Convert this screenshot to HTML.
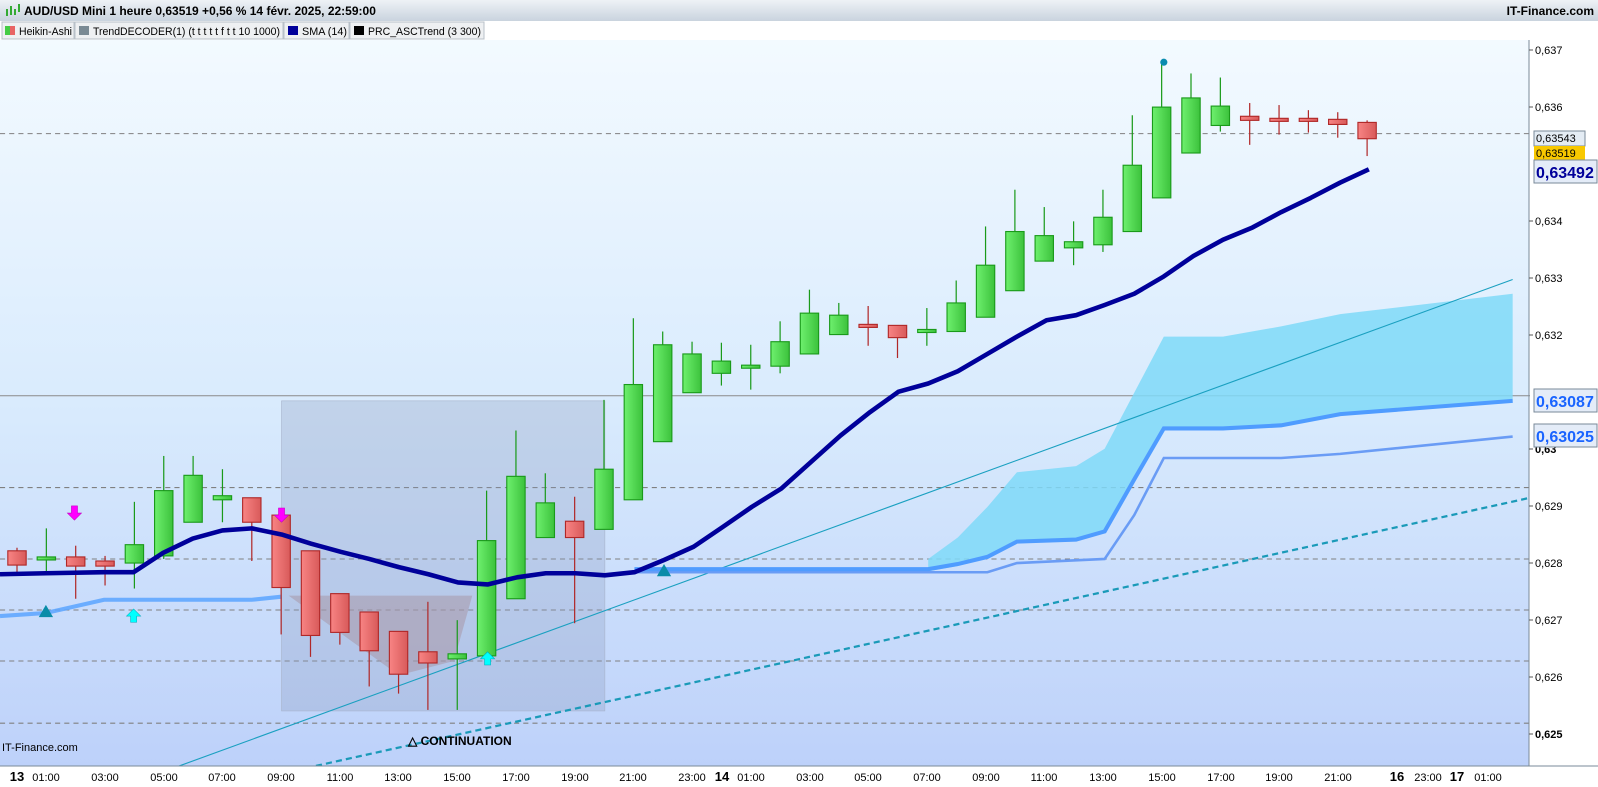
<!DOCTYPE html>
<html><head><meta charset="utf-8"><style>
html,body{margin:0;padding:0;width:1598px;height:787px;overflow:hidden;background:#fff;font-family:"Liberation Sans",sans-serif}
</style></head><body>
<svg width="1598" height="787" xmlns="http://www.w3.org/2000/svg" font-family="Liberation Sans, sans-serif">
<defs>
<linearGradient id="bg" x1="0" y1="0" x2="0" y2="1">
<stop offset="0" stop-color="#f3faff"/><stop offset="0.5" stop-color="#d9ebfd"/><stop offset="1" stop-color="#bdd1fa"/></linearGradient>
<linearGradient id="hdr" x1="0" y1="0" x2="0" y2="1"><stop offset="0" stop-color="#eef2f6"/><stop offset="1" stop-color="#c9d3de"/></linearGradient>
<linearGradient id="gc" x1="0" y1="0" x2="1" y2="0"><stop offset="0" stop-color="#6ef06e"/><stop offset="1" stop-color="#3cc23c"/></linearGradient>
<linearGradient id="rc" x1="0" y1="0" x2="1" y2="0"><stop offset="0" stop-color="#f88484"/><stop offset="1" stop-color="#d85a5a"/></linearGradient>
</defs>
<rect x="0" y="40" width="1529" height="726" fill="url(#bg)"/>
<rect x="1529" y="40" width="69" height="726" fill="#fff"/>
<g id="plot" transform="scale(1.02)">
<g stroke="#808080" stroke-width="1" stroke-dasharray="5,4">
<line x1="0" y1="131" x2="1500" y2="131"/><line x1="0" y1="478" x2="1500" y2="478"/><line x1="0" y1="548" x2="1500" y2="548"/><line x1="0" y1="598" x2="1500" y2="598"/><line x1="0" y1="648" x2="1500" y2="648"/><line x1="0" y1="709" x2="1500" y2="709"/>
</g>
<line x1="0" y1="388" x2="1500" y2="388" stroke="#8a8a8a" stroke-width="1"/>
<rect x="276" y="393" width="317" height="304" fill="#8c9cc0" fill-opacity="0.3" stroke="#a8b4cc" stroke-width="0.6"/>
<polygon points="283,584 463,584 445,648 391,662" fill="#a898a8" fill-opacity="0.55"/>
<polygon points="910,548 939,527 968,497 997,463 1055,457 1083,440 1112,385 1141,330 1199,330 1256,320 1314,308 1483,288 1483,393 1314,406 1256,417 1199,420 1141,420 1112,470 1083,521 1055,529 997,531 968,546 939,555 910,560" fill="#7fd9f8" fill-opacity="0.85"/>
<line x1="170" y1="753" x2="1483" y2="274" stroke="#1aa0c0" stroke-width="1.1"/>
<line x1="300" y1="753" x2="1500" y2="488" stroke="#1a9ab8" stroke-width="2.2" stroke-dasharray="6,4"/>
<polyline points="0,604 45,601 102,588 247,588 276,585" fill="none" stroke="#5aa4ff" stroke-width="4" stroke-opacity="0.85"/>
<polyline points="622,561 968,561 997,552 1083,548 1112,505 1141,449 1256,449 1314,445 1483,428" fill="none" stroke="#6a9cf5" stroke-width="2.5"/>
<polyline points="622,558 910,558 939,553 968,546 997,531 1055,529 1083,521 1112,470 1141,420 1199,420 1256,417 1314,406 1483,393" fill="none" stroke="#4f9cff" stroke-width="4"/>
<g id="candles"></g>
<polyline points="0,563 45,562 102,561 131,561 160,542 189,528 218,520 247,518 276,524 305,533 334,541 362,548 391,556 420,563 449,571 478,573 507,566 535,562 564,562 593,564 622,561 651,549 680,536 708,517 737,497 766,479 795,453 824,427 853,404 881,384 910,376 939,364 968,347 997,330 1026,314 1055,309 1083,299 1112,288 1141,271 1170,251 1199,235 1228,223 1256,208 1285,194 1314,179 1342,166" fill="none" stroke="#00009a" stroke-width="4.5" stroke-linejoin="round"/>
<g fill="#ff00ff" stroke="#c000c0" stroke-width="0.5">
<polygon points="70,496 76,496 76,503 80,503 73,510 66,503 70,503"/>
<polygon points="273,498 279,498 279,505 283,505 276,512 269,505 273,505"/>
</g>
<g fill="#00ffff" stroke="#00a8b8" stroke-width="0.5">
<polygon points="131,597 138,604 134,604 134,610 128,610 128,604 124,604"/>
<polygon points="478,639 485,646 481,646 481,652 475,652 475,646 471,646"/>
</g>
<g fill="#0a8ca8"><polygon points="45,593 52,605 38,605"/><polygon points="651,553 658,565 644,565"/>
<circle cx="1141" cy="61" r="3.5" fill="#0a8cb0"/></g>
</g>
<text x="408" y="745" font-size="12" font-weight="bold" font-family="Liberation Sans Narrow, Liberation Sans, sans-serif">△ CONTINUATION</text>
<text x="2" y="751" font-size="11">IT-Finance.com</text>
<rect x="0" y="0" width="1598" height="21" fill="url(#hdr)"/>
<g transform="translate(5,4)"><rect x="1" y="5" width="2" height="7" fill="#3a3"/><rect x="5" y="2" width="2" height="9" fill="#3a3"/><rect x="9" y="5" width="2" height="6" fill="#3a3"/><rect x="13" y="0" width="2" height="8" fill="#3a3"/></g>
<text x="24" y="15" font-size="12" font-weight="bold">AUD/USD Mini 1 heure 0,63519 +0,56 % 14 févr. 2025, 22:59:00</text>
<text x="1594" y="15" font-size="12" font-weight="bold" text-anchor="end">IT-Finance.com</text>
<rect x="0" y="21" width="1598" height="19" fill="#fff"/>
<g font-size="11">
<rect x="2" y="22" width="72" height="17" fill="#eef0f2" stroke="#b8c0c8"/><rect x="5" y="26" width="5" height="9" fill="#44cc44"/><rect x="10" y="26" width="5" height="9" fill="#e86464"/><text x="19" y="35" textLength="53" lengthAdjust="spacingAndGlyphs">Heikin-Ashi</text>
<rect x="75" y="22" width="208" height="17" fill="#eef0f2" stroke="#b8c0c8"/><rect x="79" y="26" width="10" height="9" fill="#7a8a94"/><text x="93" y="35" textLength="187" lengthAdjust="spacingAndGlyphs">TrendDECODER(1) (t t t t t f t t 10 1000)</text>
<rect x="284" y="22" width="65" height="17" fill="#eef0f2" stroke="#b8c0c8"/><rect x="288" y="26" width="10" height="9" fill="#00009a"/><text x="302" y="35" textLength="45" lengthAdjust="spacingAndGlyphs">SMA (14)</text>
<rect x="350" y="22" width="134" height="17" fill="#eef0f2" stroke="#b8c0c8"/><rect x="354" y="26" width="10" height="9" fill="#000"/><text x="368" y="35" textLength="113" lengthAdjust="spacingAndGlyphs">PRC_ASCTrend (3 300)</text>
</g>
<line x1="1529" y1="40" x2="1529" y2="766" stroke="#7a8a98"/>
<g font-size="11" fill="#000">
<line x1="1529" y1="50" x2="1533" y2="50" stroke="#555"/><text x="1535" y="54">0,637</text>
<line x1="1529" y1="107" x2="1533" y2="107" stroke="#555"/><text x="1535" y="111">0,636</text>
<line x1="1529" y1="221" x2="1533" y2="221" stroke="#555"/><text x="1535" y="225">0,634</text>
<line x1="1529" y1="278" x2="1533" y2="278" stroke="#555"/><text x="1535" y="282">0,633</text>
<line x1="1529" y1="335" x2="1533" y2="335" stroke="#555"/><text x="1535" y="339">0,632</text>
<text x="1535" y="396">0,631</text>
<line x1="1529" y1="449" x2="1533" y2="449" stroke="#555"/><text x="1535" y="453" font-weight="bold">0,63</text>
<line x1="1529" y1="506" x2="1533" y2="506" stroke="#555"/><text x="1535" y="510">0,629</text>
<line x1="1529" y1="563" x2="1533" y2="563" stroke="#555"/><text x="1535" y="567">0,628</text>
<line x1="1529" y1="620" x2="1533" y2="620" stroke="#555"/><text x="1535" y="624">0,627</text>
<line x1="1529" y1="677" x2="1533" y2="677" stroke="#555"/><text x="1535" y="681">0,626</text>
<line x1="1529" y1="734" x2="1533" y2="734" stroke="#555"/><text x="1535" y="738" font-weight="bold">0,625</text>
</g>
<rect x="1534" y="131" width="51" height="15" fill="#e4ecf4" stroke="#7a8a98"/><text x="1536" y="142" font-size="11">0,63543</text>
<rect x="1534" y="146" width="51" height="14" fill="#f8c800"/><text x="1536" y="157" font-size="11">0,63519</text>
<rect x="1534" y="160" width="63" height="23" fill="#e4ecf8" stroke="#7a8a98"/><text x="1536" y="178" font-size="16" font-weight="bold" fill="#00009a">0,63492</text>
<rect x="1534" y="389" width="63" height="23" fill="#e4ecf8" stroke="#7a8a98"/><text x="1536" y="407" font-size="16" font-weight="bold" fill="#1a64ff">0,63087</text>
<rect x="1534" y="424" width="63" height="23" fill="#e4ecf8" stroke="#7a8a98"/><text x="1536" y="442" font-size="16" font-weight="bold" fill="#1a64ff">0,63025</text>
<rect x="0" y="766" width="1598" height="21" fill="#fff"/>
<line x1="0" y1="766" x2="1598" y2="766" stroke="#7a8a98"/>
<g font-size="11" text-anchor="middle" font-family="Liberation Sans Narrow, Liberation Sans, sans-serif">
<text x="17" y="781" font-size="13" font-weight="bold">13</text>
<text x="46" y="781">01:00</text><text x="105" y="781">03:00</text><text x="164" y="781">05:00</text><text x="222" y="781">07:00</text><text x="281" y="781">09:00</text><text x="340" y="781">11:00</text><text x="398" y="781">13:00</text><text x="457" y="781">15:00</text><text x="516" y="781">17:00</text><text x="575" y="781">19:00</text><text x="633" y="781">21:00</text><text x="692" y="781">23:00</text>
<text x="722" y="781" font-size="13" font-weight="bold">14</text>
<text x="751" y="781">01:00</text><text x="810" y="781">03:00</text><text x="868" y="781">05:00</text><text x="927" y="781">07:00</text><text x="986" y="781">09:00</text><text x="1044" y="781">11:00</text><text x="1103" y="781">13:00</text><text x="1162" y="781">15:00</text><text x="1221" y="781">17:00</text><text x="1279" y="781">19:00</text><text x="1338" y="781">21:00</text>
<text x="1397" y="781" font-size="13" font-weight="bold">16</text><text x="1428" y="781">23:00</text>
<text x="1457" y="781" font-size="13" font-weight="bold">17</text><text x="1488" y="781">01:00</text>
</g>
</svg>
<script>
var C=[[540,554,537,562,'r'],[546,548,518,560,'g'],[546,555,535,587,'r'],[550,555,545,574,'r'],[534,552,492,577,'g'],[481,545,447,548,'g'],[466,512,447,512,'g'],[486,490,460,512,'g'],[488,512,488,550,'r'],[505,576,505,622,'r'],[540,623,540,644,'r'],[582,620,582,632,'r'],[600,638,600,673,'r'],[619,661,619,680,'r'],[639,650,590,696,'r'],[641,646,608,696,'g'],[530,643,481,650,'g'],[467,587,422,587,'g'],[493,527,464,527,'g'],[511,527,487,611,'r'],[460,519,392,519,'g'],[377,490,312,490,'g'],[338,433,325,433,'g'],[347,385,335,385,'g'],[354,366,336,378,'g'],[358,360,338,382,'g'],[335,359,315,366,'g'],[307,347,284,347,'g'],[309,328,297,328,'g'],[318,321,300,339,'r'],[319,331,319,351,'r'],[323,326,302,339,'g'],[297,325,275,325,'g'],[260,311,222,311,'g'],[227,285,186,285,'g'],[231,256,203,256,'g'],[237,243,217,260,'g'],[213,240,186,247,'g'],[162,227,113,227,'g'],[105,194,60,194,'g'],[96,150,72,150,'g'],[104,123,76,129,'g'],[114,118,101,142,'r'],[116,118,103,132,'r'],[116,119,108,130,'r'],[117,122,110,135,'r'],[120,136,118,153,'r']];
var s='';
C.forEach(function(c,i){var x=(17+29.35*i)/1.02;var g=c[4]=='g';var st=g?'#1a9a1a':'#b02828';
s+='<line x1="'+x+'" y1="'+c[2]+'" x2="'+x+'" y2="'+c[3]+'" stroke="'+st+'" stroke-width="1.2"/>';
var h=Math.max(c[1]-c[0],3);s+='<rect x="'+(x-9)+'" y="'+c[0]+'" width="18" height="'+h+'" fill="url(#'+(g?'gc':'rc')+')" stroke="'+st+'" stroke-width="1.1"/>';});
document.getElementById('candles').innerHTML=s;
</script>
</body></html>
